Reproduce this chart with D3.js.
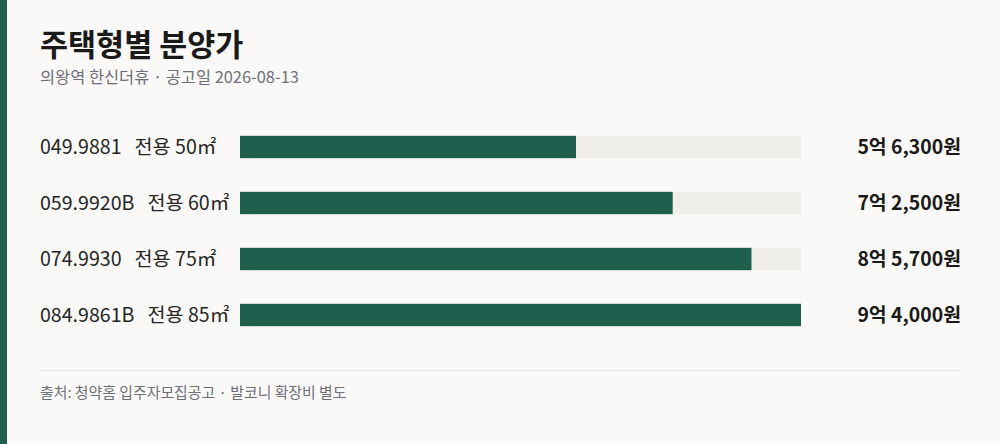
<!DOCTYPE html>
<html><head><meta charset="utf-8">
<script src="https://cdn.jsdelivr.net/npm/d3@7"></script>
<style>
html,body{margin:0;padding:0;background:#faf9f7;}
svg{display:block;font-family:"Noto Sans CJK KR","Noto Sans",sans-serif;}
</style></head>
<body><svg id="c" width="1000" height="444"></svg>
<script>
const title = "주택형별 분양가";
const subtitle = "의왕역 한신더휴 · 공고일 2026-08-13";
const footer = "출처: 청약홈 입주자모집공고 · 발코니 확장비 별도";
const codes = ["049.9881", "059.9920B", "074.9930", "084.9861B"];
const areas = ["전용 50㎡", "전용 60㎡", "전용 75㎡", "전용 85㎡"];
const prices = [56300, 72500, 85700, 94000]; // 만원
const priceLabels = ["5억 6,300원", "7억 2,500원", "8억 5,700원", "9억 4,000원"];

const svg = d3.select("#c");
svg.append("rect").attr("x",0).attr("y",0).attr("width",1000).attr("height",444).attr("fill","#faf9f7");
svg.append("rect").attr("x",0).attr("y",0).attr("width",7).attr("height",444).attr("fill","#1f5f4e");

svg.append("text").attr("x",40).attr("y",56).attr("font-size",30.5).attr("font-weight",700)
  .attr("fill","#1a1a1a").text(title);
svg.append("text").attr("x",40).attr("y",83).attr("font-size",16.4).attr("fill","#6e7079").text(subtitle);

const rows = d3.range(codes.length);
const y = d3.scaleBand().domain(rows).range([119, 343]).paddingInner(0.6).paddingOuter(0.3);
const x = d3.scaleLinear().domain([0, d3.max(prices)]).range([240, 801]);

const g = svg.append("g");
const row = g.selectAll("g.row").data(rows).join("g").attr("class","row");

row.append("rect").attr("x", x(0)).attr("y", i => y(i)).attr("height", y.bandwidth())
  .attr("width", x.range()[1]-x(0)).attr("fill","#f0efea");
row.append("rect").attr("x", x(0)).attr("y", i => y(i)).attr("height", y.bandwidth())
  .attr("width", i => x(prices[i]) - x(0)).attr("fill","#1f5f4e");

const lab = row.append("text").attr("x",40).attr("y", i => y(i)+y.bandwidth()/2).attr("dy","0.35em")
  .attr("font-size",19.6).attr("fill","#262626");
lab.append("tspan").text(i => codes[i]);
lab.append("tspan").attr("dx",13).text(i => areas[i]);

row.append("text").attr("x",961).attr("y", i => y(i)+y.bandwidth()/2).attr("dy","0.35em")
  .attr("text-anchor","end").attr("font-size",19.4).attr("font-weight",700).attr("fill","#1a1a1a")
  .text(i => priceLabels[i]);

svg.append("line").attr("x1",40).attr("x2",961).attr("y1",370.5).attr("y2",370.5)
  .attr("stroke","#e4e3e0").attr("stroke-width",1);
svg.append("text").attr("x",40).attr("y",398).attr("font-size",14.9).attr("fill","#6e7079").text(footer);
</script></body></html>
